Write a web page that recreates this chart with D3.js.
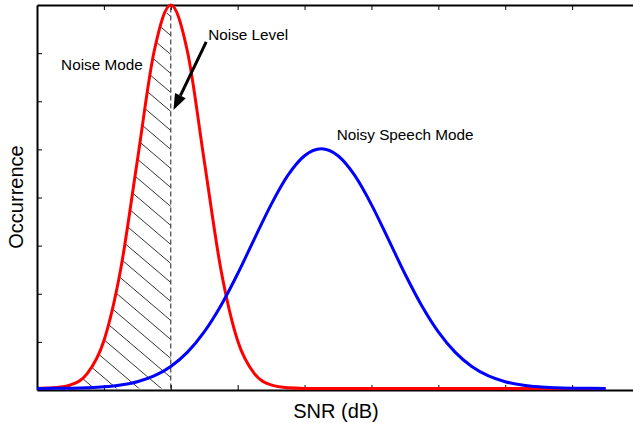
<!DOCTYPE html>
<html>
<head>
<meta charset="utf-8">
<script src="https://cdn.jsdelivr.net/npm/d3@7"></script>
<style>
  body { margin: 0; background: #fff; }
  text { font-family: "Liberation Sans", Arial, Helvetica, sans-serif; fill: #000; }
</style>
</head>
<body>
<div id="chart"></div>
<script>
// SNR values (dB, arbitrary units) where the curves were read
const snr = [0, 0.25, 0.5, 0.75, 1, 1.25, 1.5, 1.75, 2, 2.25, 2.5, 2.75, 3, 3.25, 3.5, 3.75,
  4, 4.25, 4.5, 4.75, 5, 5.25, 5.5, 5.75, 6, 6.25, 6.5, 6.75, 7, 7.25, 7.5, 7.75, 8, 8.25, 8.5];
// noise mode (red)
const noiseMode = [0.002, 0.014, 0.074, 0.309, 0.997, 2.479, 4.753, 7.024, 8, 7.024, 4.753, 2.479,
  0.997, 0.309, 0.074, 0.014, 0.002, 0, 0, 0, 0, 0, 0, 0, 0, 0, 0, 0, 0, 0, 0, 0, 0, 0, 0];
// noisy speech mode (blue)
const speechMode = [0.001, 0.003, 0.007, 0.016, 0.034, 0.072, 0.142, 0.263, 0.460, 0.759, 1.181, 1.732,
  2.394, 3.121, 3.836, 4.444, 4.855, 5, 4.855, 4.444, 3.836, 3.121, 2.394, 1.732, 1.181, 0.759,
  0.460, 0.263, 0.142, 0.072, 0.034, 0.016, 0.007, 0.003, 0.001];
const noiseLevel = 2;
const xTicks = [1, 2, 3, 4, 5, 6, 7, 8];
const yTicks = [1, 2, 3, 4, 5, 6, 7];

const width = 633, height = 423;

const svg = d3.select("#chart")
  .append("svg")
    .attr("width", width)
    .attr("height", height);

svg.append("rect").attr("width", width).attr("height", height).attr("fill", "#fff");

// scales (x domain runs a bit past the visible right edge, the figure is cut there)
const x = d3.scaleLinear().domain([0, 9]).range([37, 639]);
const y = d3.scaleLinear().domain([0, 8]).range([388.5, 5]);

const noiseData = snr.map((s, i) => ({x: s, y: noiseMode[i]}));
const speechData = snr.map((s, i) => ({x: s, y: speechMode[i]}));

// hatched area under the noise mode, left of the noise level
const area = d3.area()
  .x(d => x(d.x))
  .y0(y(0))
  .y1(d => y(d.y))
  .curve(d3.curveMonotoneX);

svg.append("clipPath")
  .attr("id", "hatch-clip")
  .append("path")
    .attr("d", area(noiseData.filter(d => d.x <= noiseLevel)));

const hatch = svg.append("g").attr("clip-path", "url(#hatch-clip)");
const slope = 0.85, gap = 19, x0 = x(noiseLevel);
for (let yy = y(0) + 160; yy > 0; yy -= gap) {
  hatch.append("line")
    .attr("x1", x0 + 5).attr("y1", yy + 5 * slope)
    .attr("x2", x0 - 220).attr("y2", yy - 220 * slope)
    .attr("stroke", "#000")
    .attr("stroke-width", 0.8);
}

// noise level marker
svg.append("line")
  .attr("x1", x(noiseLevel)).attr("x2", x(noiseLevel))
  .attr("y1", y(0)).attr("y2", y(8))
  .attr("stroke", "#333")
  .attr("stroke-width", 1.1)
  .attr("stroke-dasharray", "5,3");

// axes
const xAxisBottom = svg.append("g")
  .attr("transform", "translate(0,390)")
  .call(d3.axisBottom(x).tickValues(xTicks).tickSize(-5).tickSizeOuter(0).tickFormat(""));
const xAxisTop = svg.append("g")
  .attr("transform", "translate(0,5)")
  .call(d3.axisTop(x).tickValues(xTicks).tickSize(-5).tickSizeOuter(0).tickFormat(""));
const yAxis = svg.append("g")
  .attr("transform", "translate(37,0)")
  .call(d3.axisLeft(d3.scaleLinear().domain([0, 8]).range([390, 5])).tickValues(yTicks).tickSize(-5).tickSizeOuter(0).tickFormat(""));
[xAxisBottom, xAxisTop, yAxis].forEach(g => {
  g.select(".domain").attr("stroke", "#000").attr("stroke-width", 2);
  g.selectAll(".tick line").attr("stroke", "#000").attr("stroke-width", 1);
});

// curves
const line = d3.line()
  .x(d => x(d.x))
  .y(d => y(d.y))
  .curve(d3.curveMonotoneX);

svg.append("path")
  .datum(noiseData)
  .attr("fill", "none")
  .attr("stroke", "#ff0000")
  .attr("stroke-width", 3)
  .attr("d", line);

svg.append("path")
  .datum(speechData)
  .attr("fill", "none")
  .attr("stroke", "#0000ff")
  .attr("stroke-width", 3)
  .attr("d", line);

// arrow pointing at the noise level
const arrowFrom = {x: 2.53, y: 7.23}, arrowTo = {x: 2.04, y: 5.81};
const ax1 = x(arrowFrom.x), ay1 = y(arrowFrom.y), ax2 = x(arrowTo.x), ay2 = y(arrowTo.y);
const ang = Math.atan2(ay2 - ay1, ax2 - ax1);
const headLen = 16, headW = 6;
const bx = ax2 - headLen * Math.cos(ang), by = ay2 - headLen * Math.sin(ang);
svg.append("line")
  .attr("x1", ax1).attr("y1", ay1)
  .attr("x2", bx).attr("y2", by)
  .attr("stroke", "#000")
  .attr("stroke-width", 3);
svg.append("polygon")
  .attr("points", [
    [ax2, ay2],
    [bx + headW * Math.sin(ang), by - headW * Math.cos(ang)],
    [bx - headW * Math.sin(ang), by + headW * Math.cos(ang)]
  ].map(p => p.join(",")).join(" "))
  .attr("fill", "#000");

// annotations
svg.append("text").attr("x", x(0.36)).attr("y", y(6.65))
  .attr("font-size", "15.3px").text("Noise Mode");
svg.append("text").attr("x", x(2.56)).attr("y", y(7.27))
  .attr("font-size", "15.3px").text("Noise Level");
svg.append("text").attr("x", x(4.48)).attr("y", y(5.18))
  .attr("font-size", "15.3px").text("Noisy Speech Mode");

// axis titles
svg.append("text")
  .attr("x", 336).attr("y", 418)
  .attr("text-anchor", "middle")
  .attr("font-size", "20px")
  .text("SNR (dB)");
svg.append("text")
  .attr("transform", "translate(23,197)rotate(-90)")
  .attr("text-anchor", "middle")
  .attr("font-size", "20px")
  .text("Occurrence");
</script>
</body>
</html>
